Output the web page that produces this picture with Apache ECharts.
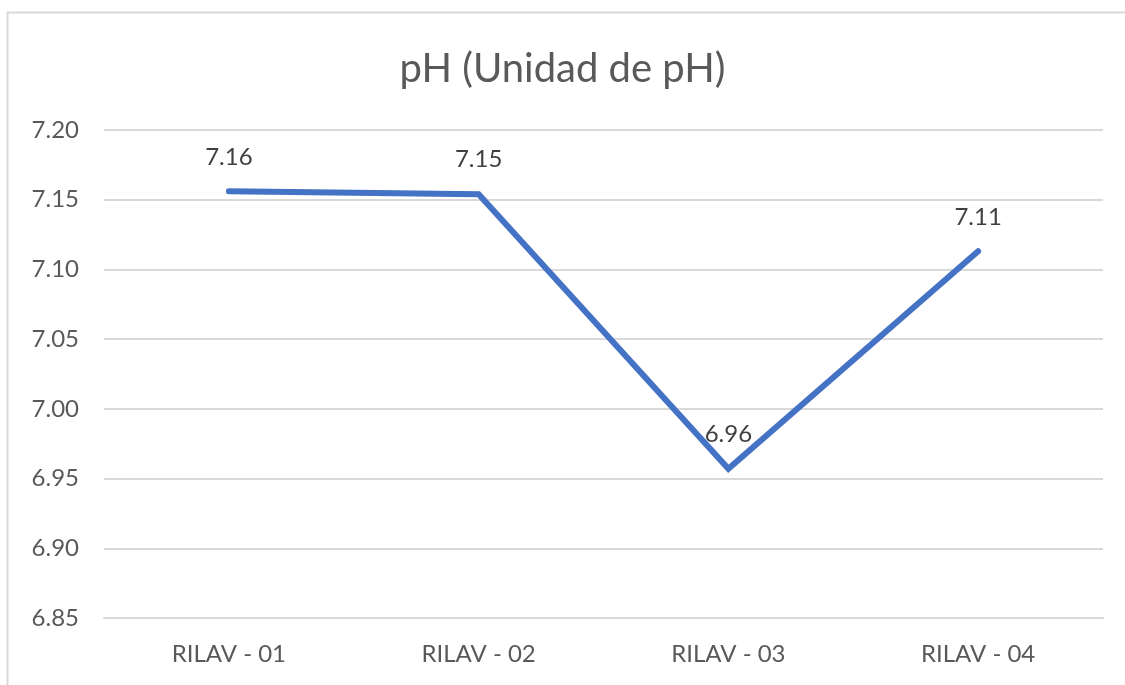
<!DOCTYPE html>
<html>
<head>
<meta charset="utf-8">
<script src="https://cdn.jsdelivr.net/npm/echarts@6/dist/echarts.min.js"></script>
<style>
  html, body { margin: 0; padding: 0; background: #fff; }
  #main { width: 1125px; height: 685px; }
</style>
</head>
<body>
<div id="main"></div>
<script>
// puntos de muestreo y valores de pH
var categories = ['RILAV - 01', 'RILAV - 02', 'RILAV - 03', 'RILAV - 04'];
var ph_values = [7.156, 7.154, 6.957, 7.113];
var y_ticks = { min: 6.85, max: 7.20, interval: 0.05 };

var myChart = echarts.init(document.getElementById('main'));
var font = 'Lato, "Open Sans", sans-serif';

var option = {
    backgroundColor: '#ffffff',
    animation: false,
    graphic: [{
        type: 'rect',
        shape: { x: 7.5, y: 12.5, width: 1140, height: 700 },
        style: { fill: 'none', stroke: '#d9d9d9', lineWidth: 2 },
        silent: true
    }],
    title: {
        text: 'pH (Unidad de pH)',
        left: 'center',
        top: 44,
        textStyle: { fontFamily: font, fontSize: 40, fontWeight: 'normal', color: '#595959' }
    },
    grid: { left: 104, right: 22, top: 130, bottom: 67 },
    xAxis: {
        type: 'category',
        data: categories,
        axisLine: { show: true, lineStyle: { color: '#d9d9d9', width: 2 } },
        axisTick: { show: false },
        axisLabel: { fontFamily: font, fontSize: 24, color: '#595959', margin: 24 }
    },
    yAxis: {
        type: 'value',
        min: y_ticks.min,
        max: y_ticks.max,
        interval: y_ticks.interval,
        axisLine: { show: false },
        axisTick: { show: false },
        axisLabel: {
            fontFamily: font, fontSize: 24, color: '#595959', margin: 25,
            formatter: function (v) { return v.toFixed(2); }
        },
        splitLine: { lineStyle: { color: '#d9d9d9', width: 2 } }
    },
    series: [{
        type: 'line',
        data: ph_values,
        symbol: 'circle',
        symbolSize: 1,
        lineStyle: { color: '#4472c4', width: 6, cap: 'round', join: 'miter' },
        itemStyle: { color: '#4472c4' },
        label: {
            show: true,
            position: 'top',
            distance: 22,
            fontFamily: font,
            fontSize: 24,
            color: '#404040',
            formatter: function (p) { return p.value.toFixed(2); }
        }
    }]
};

myChart.setOption(option);
</script>
</body>
</html>
